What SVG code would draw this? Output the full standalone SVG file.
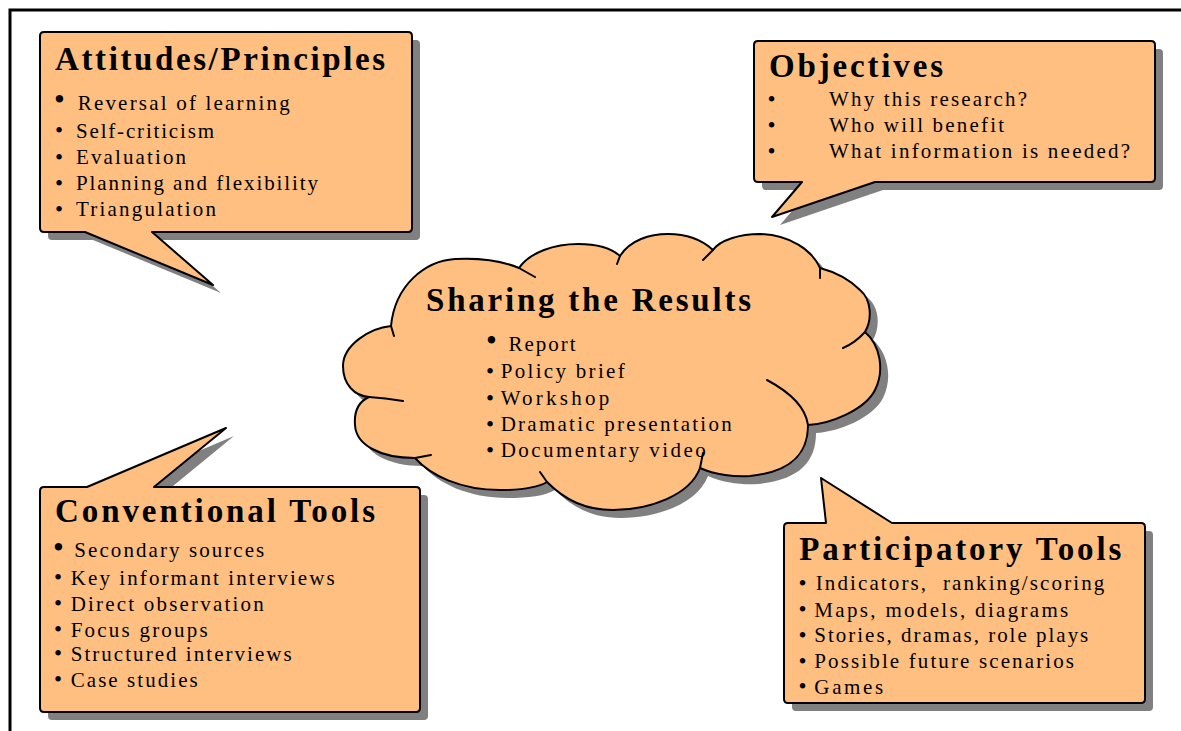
<svg xmlns="http://www.w3.org/2000/svg" xmlns:xlink="http://www.w3.org/1999/xlink" width="1181" height="731" viewBox="0 0 1181 731">
<style>
.shape{fill:#FFBF80;stroke:#000;stroke-width:2;stroke-linejoin:round}
.shadow{fill:#808080;stroke:none}
.inner{fill:none;stroke:#000;stroke-width:2;stroke-linecap:round}
.title{font-family:"Liberation Serif","Times New Roman",serif;font-weight:bold;font-size:33px;fill:#000}
.item{font-family:"Liberation Serif","Times New Roman",serif;font-size:21px;fill:#000}
.bul{font-family:"Liberation Serif","Times New Roman",serif;font-size:23px;fill:#000}
.big{font-family:"Liberation Serif","Times New Roman",serif;font-size:31px;fill:#000}
.frame{fill:none;stroke:#000;stroke-width:3}
</style>
<defs>
<path id="p-att" d="M44,32 H408 Q412,32 412,36 V228 Q412,232 408,232 H152 L213,285 L85,232 H44 Q40,232 40,228 V36 Q40,32 44,32 Z"/>
<path id="p-obj" d="M758,41 H1151 Q1155,41 1155,45 V178 Q1155,182 1151,182 H875 L772,217 L802,182 H758 Q754,182 754,178 V45 Q754,41 758,41 Z"/>
<path id="p-con" d="M44,487 H87 L226,428 L154,487 H416 Q420,487 420,491 V708 Q420,712 416,712 H44 Q40,712 40,708 V491 Q40,487 44,487 Z"/>
<path id="p-par" d="M788,523 H826 L821,478 L892,523 H1141 Q1145,523 1145,527 V699 Q1145,703 1141,703 H788 Q784,703 784,699 V527 Q784,523 788,523 Z"/>
<path id="p-cloud" d="M391,326 C370,328 343,345 343,366 C343,385 355,396 369,397 C358,402 354,412 355,425 C356,445 380,458 415,458 C430,475 460,490 500,490 C520,490 537,488 547,482 C565,500 585,510 613,510 C650,510 690,495 700,468 C715,475 735,477 750,476 C790,472 808,455 808,425 C830,424 865,410 875,390 C885,370 880,345 865,332 C872,320 872,300 860,290 C850,280 835,272 820,268 C812,250 790,235 760,234 C740,234 720,240 713,250 C700,238 685,234 668,234 C650,234 630,240 620,256 C610,247 595,244 578,244 C555,244 530,252 519,268 C500,260 475,258 455,259 C425,261 395,285 391,326 Z"/>
</defs>
<rect width="1181" height="731" fill="#fff"/>
<path class="frame" d="M10,731 V10 H1181"/>
<g id="connectors"></g>
<g id="attitudes">
<use xlink:href="#p-att" href="#p-att" class="shadow" transform="translate(8,8)"/>
<use xlink:href="#p-att" href="#p-att" class="shape"/>
<text class="title" x="55" y="70" textLength="330" lengthAdjust="spacing">Attitudes/Principles</text>
<text class="big" x="54" y="109.5">•</text>
<text class="item" x="77.7" y="110" textLength="212" lengthAdjust="spacing">Reversal of learning</text>
<text class="bul" x="55" y="138">•</text>
<text class="item" x="76" y="137.5" textLength="138" lengthAdjust="spacing">Self-criticism</text>
<text class="bul" x="55" y="164.5">•</text>
<text class="item" x="76" y="164" textLength="110" lengthAdjust="spacing">Evaluation</text>
<text class="bul" x="55" y="190.5">•</text>
<text class="item" x="76" y="190" textLength="242" lengthAdjust="spacing">Planning and flexibility</text>
<text class="bul" x="55" y="216.5">•</text>
<text class="item" x="76" y="216" textLength="140" lengthAdjust="spacing">Triangulation</text>
</g>
<g id="objectives">
<use xlink:href="#p-obj" href="#p-obj" class="shadow" transform="translate(8,8)"/>
<use xlink:href="#p-obj" href="#p-obj" class="shape"/>
<text class="title" x="769" y="77" textLength="174" lengthAdjust="spacing">Objectives</text>
<text class="bul" x="767.5" y="106.5">•</text>
<text class="item" x="829" y="106" textLength="198" lengthAdjust="spacing">Why this research?</text>
<text class="bul" x="767.5" y="132.5">•</text>
<text class="item" x="829" y="132" textLength="175" lengthAdjust="spacing">Who will benefit</text>
<text class="bul" x="767.5" y="158.5">•</text>
<text class="item" x="829" y="158" textLength="301" lengthAdjust="spacing">What information is needed?</text>
</g>
<g id="sharing">
<use xlink:href="#p-cloud" href="#p-cloud" class="shadow" transform="translate(8,8)"/>
<use xlink:href="#p-cloud" href="#p-cloud" class="shape"/>
<path class="inner" d="M391,326 L394,336 M369,397 Q385,398 403,401 M415,458 L431,455 M547,482 L540,472 M700,468 L703,453 M808,425 C806,410 795,395 767,380 M865,332 Q855,343 843,348 M820,268 L820,278 M713,250 L703,260 M620,256 L617,264 M519,268 L535,277"/>
<text class="title" x="426" y="311" textLength="325" lengthAdjust="spacing">Sharing the Results</text>
<text class="big" x="486" y="351">•</text>
<text class="item" x="508.6" y="351" textLength="67" lengthAdjust="spacing">Report</text>
<text class="bul" x="486" y="378.5">•</text>
<text class="item" x="500.7" y="378" textLength="124" lengthAdjust="spacing">Policy brief</text>
<text class="bul" x="486" y="405.5">•</text>
<text class="item" x="500.7" y="405" textLength="108.6" lengthAdjust="spacing">Workshop</text>
<text class="bul" x="486" y="431.5">•</text>
<text class="item" x="500.7" y="431" textLength="231" lengthAdjust="spacing">Dramatic presentation</text>
<text class="bul" x="486" y="457.5">•</text>
<text class="item" x="500.7" y="457" textLength="205" lengthAdjust="spacing">Documentary video</text>
</g>
<g id="conventional">
<use xlink:href="#p-con" href="#p-con" class="shadow" transform="translate(8,8)"/>
<use xlink:href="#p-con" href="#p-con" class="shape"/>
<text class="title" x="55" y="522" textLength="320" lengthAdjust="spacing">Conventional Tools</text>
<text class="big" x="53" y="558">•</text>
<text class="item" x="74.3" y="557" textLength="190" lengthAdjust="spacing">Secondary sources</text>
<text class="bul" x="54" y="585">•</text>
<text class="item" x="70.7" y="584.5" textLength="264" lengthAdjust="spacing">Key informant interviews</text>
<text class="bul" x="54" y="611">•</text>
<text class="item" x="70.7" y="610.5" textLength="193" lengthAdjust="spacing">Direct observation</text>
<text class="bul" x="54" y="637">•</text>
<text class="item" x="70.7" y="636.5" textLength="137" lengthAdjust="spacing">Focus groups</text>
<text class="bul" x="54" y="661">•</text>
<text class="item" x="70.7" y="660.5" textLength="221" lengthAdjust="spacing">Structured interviews</text>
<text class="bul" x="54" y="687">•</text>
<text class="item" x="70.7" y="686.5" textLength="127" lengthAdjust="spacing">Case studies</text>
</g>
<g id="participatory">
<use xlink:href="#p-par" href="#p-par" class="shadow" transform="translate(8,8)"/>
<use xlink:href="#p-par" href="#p-par" class="shape"/>
<text class="title" x="799.3" y="559.5" textLength="322" lengthAdjust="spacing">Participatory Tools</text>
<text class="bul" x="798.5" y="590.5">•</text>
<text class="item" x="815.7" y="590" textLength="288.6" lengthAdjust="spacing" xml:space="preserve">Indicators,  ranking/scoring</text>
<text class="bul" x="798.5" y="617">•</text>
<text class="item" x="814.3" y="616.5" textLength="254" lengthAdjust="spacing">Maps, models, diagrams</text>
<text class="bul" x="798.5" y="642.5">•</text>
<text class="item" x="814.3" y="642" textLength="274" lengthAdjust="spacing">Stories, dramas, role plays</text>
<text class="bul" x="798.5" y="668.5">•</text>
<text class="item" x="814.3" y="668" textLength="259.7" lengthAdjust="spacing">Possible future scenarios</text>
<text class="bul" x="798.5" y="694">•</text>
<text class="item" x="814.3" y="693.5" textLength="69" lengthAdjust="spacing">Games</text>
</g>
</svg>
